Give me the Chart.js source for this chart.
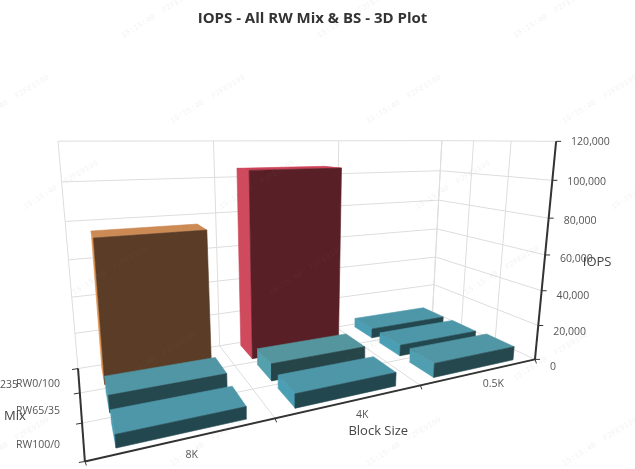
<!DOCTYPE html>
<html>
<head>
<meta charset="utf-8">
<title>IOPS 3D</title>
<script src="https://cdn.jsdelivr.net/npm/chart.js@4"></script>
<style>
  html, body { margin: 0; padding: 0; background: #fff; }
  canvas { display: block; }
</style>
</head>
<body>
<canvas id="chart" width="635" height="469"></canvas>
<script>
const blockSizes = ["8K", "4K", "0.5K"]
const mixes = ["RW100/0", "RW65/35", "RW0/100"]   // front to back
const iopsRW100 = [6000, 7200, 7800]
const iopsRW65 = [8500, 9400, 6400]
const iopsRW0 = [75000, 105000, 5800]
const iopsTicks = [0, 20000, 40000, 60000, 80000, 100000, 120000]
const IOPS_MAX = 120000

const FONT = "'Open Sans', 'Noto Sans', sans-serif"
const TITLE_H = 35
const RIGHT_PAD = 10   // title sits a little left of the page centre
const BAR_W = 0.7, BAR_D = 0.7

// the box corners as seen on the page, used to solve the camera once
const cameraFit = [
  [[0, 0, 0], [85, 461]], [[1, 0, 0], [535, 360]], [[1, 1, 0], [432.5, 311]], [[0, 1, 0], [78, 369]],
  [[1, 0, 1], [556, 141]], [[1, 1, 1], [442, 141]], [[0, 1, 1], [58, 141]]
]

function solveCamera(pairs) {
  const rows = [], rhs = []
  pairs.forEach(([[X, Y, Z], [u, v]]) => {
    rows.push([X, Y, Z, 1, 0, 0, 0, 0, -u * X, -u * Y, -u * Z]); rhs.push(u)
    rows.push([0, 0, 0, 0, X, Y, Z, 1, -v * X, -v * Y, -v * Z]); rhs.push(v)
  })
  const n = 11
  const m = []
  for (let i = 0; i < n; i++) {
    m[i] = []
    for (let j = 0; j < n; j++) m[i][j] = rows.reduce((s, r) => s + r[i] * r[j], 0)
    m[i][n] = rows.reduce((s, r, k) => s + r[i] * rhs[k], 0)
  }
  for (let c = 0; c < n; c++) {
    let p = c
    for (let r = c + 1; r < n; r++) if (Math.abs(m[r][c]) > Math.abs(m[p][c])) p = r
    ;[m[c], m[p]] = [m[p], m[c]]
    for (let r = 0; r < n; r++) {
      if (r === c) continue
      const f = m[r][c] / m[c][c]
      for (let k = c; k <= n; k++) m[r][k] -= f * m[c][k]
    }
  }
  return m.map((r, i) => r[n] / r[i])
}
const cam = solveCamera(cameraFit)

// X,Y,Z all run 0..1 across the box
const project = (X, Y, Z) => {
  const w = cam[8] * X + cam[9] * Y + cam[10] * Z + 1
  return {
    x: (cam[0] * X + cam[1] * Y + cam[2] * Z + cam[3]) / w,
    y: (cam[4] * X + cam[5] * Y + cam[6] * Z + cam[7]) / w
  }
}

const line = (pts, color, width) => ({
  data: pts, showLine: true, fill: false, borderColor: color, borderWidth: width, pointRadius: 0, tension: 0
})
const face = (pts, color) => ({
  data: [...pts, pts[0]], showLine: true, fill: "shape", backgroundColor: color,
  borderColor: color, borderWidth: 0.6, pointRadius: 0, tension: 0
})

const faceColors = (v) => {
  if (v > 90000) return { left: "#ce4a5c", top: "#cd4258", front: "#591f27" }
  if (v > 50000) return { left: "#e0924f", top: "#cc8a55", front: "#5b3d27" }
  if (v > 9000) return { left: "#55a0ad", top: "#55959d", front: "#264549" }
  if (v > 7500) return { left: "#4f9fb0", top: "#5196a4", front: "#25474e" }
  return { left: "#4a9fb5", top: "#4e97a9", front: "#23474f" }
}

const GRID = "#dddddd", AXIS = "#333333"
const zLevels = iopsTicks.map(t => t / IOPS_MAX)
const xCuts = [0, 1, 2, 3].map(i => i / blockSizes.length)
const yCuts = [0, 1, 2, 3].map(i => i / mixes.length)

const background = []
zLevels.slice(1).forEach(z => {
  background.push(line([project(0, 1, z), project(1, 1, z), project(1, 0, z)], GRID, 1))
})
xCuts.forEach(x => {
  background.push(line([project(x, 0, 0), project(x, 1, 0), project(x, 1, 1)], GRID, 1))
})
yCuts.forEach(y => {
  background.push(line([project(0, y, 0), project(1, y, 0), project(1, y, 1)], GRID, 1))
})

const marks = []
const rowsOfValues = [iopsRW100, iopsRW65, iopsRW0]
for (let r = mixes.length - 1; r >= 0; r--) {
  for (let c = blockSizes.length - 1; c >= 0; c--) {
    const v = rowsOfValues[r][c]
    const z = v / IOPS_MAX
    const x0 = (c + 0.5 - BAR_W / 2) / blockSizes.length, x1 = (c + 0.5 + BAR_W / 2) / blockSizes.length
    const y0 = (r + 0.5 - BAR_D / 2) / mixes.length, y1 = (r + 0.5 + BAR_D / 2) / mixes.length
    const col = faceColors(v)
    marks.push(face([project(x0, y0, 0), project(x0, y1, 0), project(x0, y1, z), project(x0, y0, z)], col.left))
    marks.push(face([project(x0, y0, z), project(x0, y1, z), project(x1, y1, z), project(x1, y0, z)], col.top))
    marks.push(face([project(x0, y0, 0), project(x1, y0, 0), project(x1, y0, z), project(x0, y0, z)], col.front))
  }
}

const shifted = (p, dx, dy) => ({ x: p.x + dx, y: p.y + dy })
const axes = [
  line([project(0, 0, 0), project(1, 0, 0)], AXIS, 2),
  line([project(0, 0, 0), project(0, 1, 0)], AXIS, 2),
  line([project(1, 0, 0), project(1, 0, 1)], AXIS, 2)
]
xCuts.forEach(x => { const p = project(x, 0, 0); axes.push(line([p, shifted(p, 1.5, 4)], AXIS, 1)) })
yCuts.forEach(y => { const p = project(0, y, 0); axes.push(line([p, shifted(p, -6, 1)], AXIS, 1)) })
zLevels.forEach(z => { const p = project(1, 0, z); axes.push(line([p, shifted(p, 5, 0)], AXIS, 1)) })

const axisText = {
  id: "axisText",
  afterDatasetsDraw(chart) {
    const ctx = chart.ctx
    const sx = chart.scales.x, sy = chart.scales.y
    const put = (p, text, dx, dy, align) => {
      ctx.textAlign = align
      ctx.fillText(text, sx.getPixelForValue(p.x) + dx, sy.getPixelForValue(p.y) + dy)
    }
    ctx.save()
    ctx.textBaseline = "middle"
    ctx.fillStyle = "#555"
    ctx.font = "10.5px " + FONT
    blockSizes.forEach((b, i) => put(project((i + 0.5) / blockSizes.length, -0.1, 0), b, 0, 5, "center"))
    mixes.forEach((m, i) => {
      const p = project(0, (i + 0.5) / mixes.length, 0)
      put({ x: 60, y: p.y }, m, 0, 4, "right")
    })
    iopsTicks.forEach(t => {
      const z = t / IOPS_MAX
      put(project(1, 0, z), t.toLocaleString("en-US"), 15, 1 + 7 * (1 - z), "left")
    })
    ctx.textAlign = "left"
    ctx.fillText("235", 0, 385)
    ctx.fillStyle = "#444"
    ctx.font = "13px " + FONT
    put(project(0.5, 0, 0), "Block Size", 26, 30, "center")
    put(project(1, 0, 0.5), "IOPS", 52, 7, "center")
    ctx.textAlign = "left"
    ctx.fillText("Mix", 4, 416)
    ctx.restore()
  }
}

const watermark = {
  id: "watermark",
  afterDraw(chart) {
    const ctx = chart.ctx
    ctx.save()
    ctx.font = "8px 'Liberation Mono', monospace"
    ctx.fillStyle = "rgba(128,128,128,0.1)"
    for (let row = -1; row < 7; row++) {
      for (let col = -2; col < 5; col++) {
        ctx.save()
        ctx.translate(123 + row * 49 + col * 196, 38 + row * 85.6)
        ctx.rotate(-31.6 * Math.PI / 180)
        ctx.fillText("15:15:40  F2FE9199", 0, 0)
        ctx.restore()
      }
    }
    ctx.restore()
  }
}

// first dataset ends up on top, so reverse the painting order
const datasets = [...background, ...marks, ...axes].reverse()

new Chart(document.getElementById("chart"), {
  type: "scatter",
  data: { datasets },
  options: {
    responsive: false,
    animation: false,
    layout: { padding: { right: RIGHT_PAD } },
    scales: {
      x: { type: "linear", display: false, min: 0, max: 635 - RIGHT_PAD },
      y: { type: "linear", display: false, min: TITLE_H, max: 469, reverse: true }
    },
    plugins: {
      legend: { display: false },
      tooltip: { enabled: false },
      title: {
        display: true,
        text: "IOPS - All RW Mix & BS - 3D Plot",
        color: "#333",
        font: { family: FONT, size: 15, weight: "bold", lineHeight: "20px" },
        padding: { top: 9, bottom: 6 }
      }
    }
  },
  plugins: [axisText, watermark]
})
</script>
</body>
</html>
